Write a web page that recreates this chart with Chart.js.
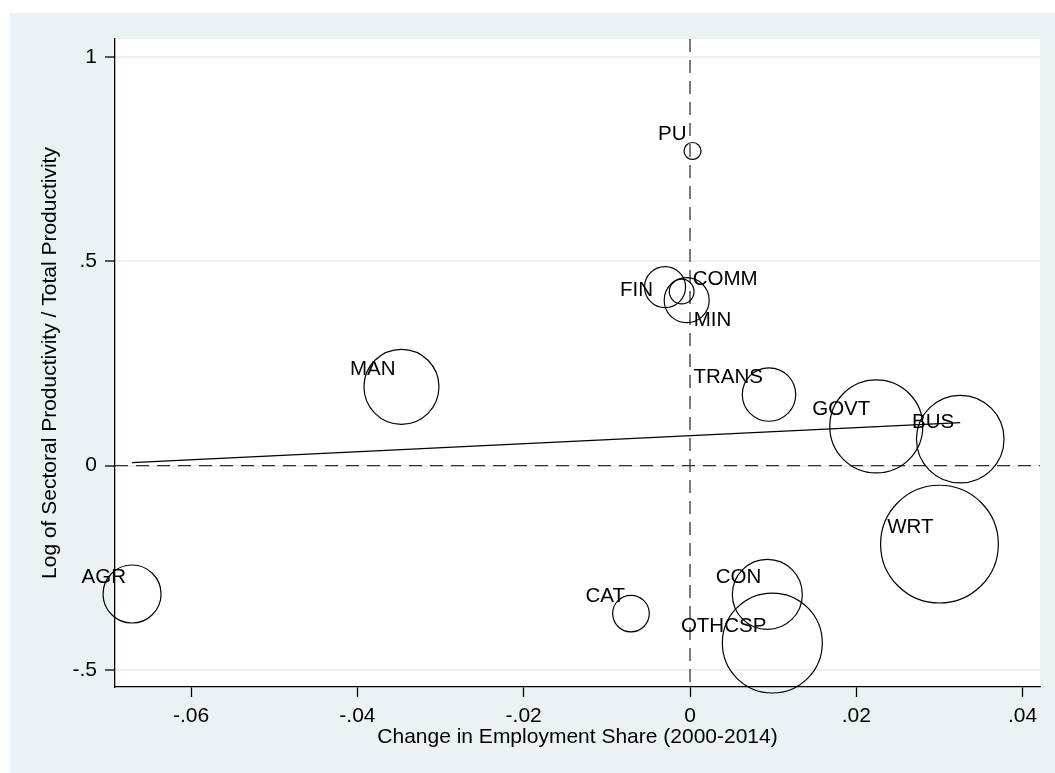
<!DOCTYPE html>
<html lang="en">
<head>
  <meta charset="UTF-8" />
  <title>Sectoral productivity vs change in employment share</title>
  <script src="https://cdn.jsdelivr.net/npm/chart.js"></script>
  <style>
    html, body { margin: 0; padding: 0; background: #fff; }
    canvas { display: block; }
  </style>
</head>
<body>
  <canvas id="chart" width="1055" height="773"></canvas>

  <script>
    // sectors and values
    const sectors = ['PU', 'FIN', 'COMM', 'MIN', 'TRANS', 'MAN', 'AGR', 'CAT', 'CON', 'OTHCSP', 'GOVT', 'BUS', 'WRT'];
    const empShareChange = [0.0003, -0.0030, -0.0010, -0.0004, 0.0095, -0.0347, -0.0671, -0.0071, 0.0093, 0.0099, 0.0224, 0.0325, 0.0300];
    const logRelProd = [0.770, 0.437, 0.426, 0.405, 0.174, 0.193, -0.314, -0.362, -0.315, -0.434, 0.096, 0.065, -0.192];
    // bubble weight (approx. sector size)
    const sectorWeight = [0.32, 1.87, 0.68, 2.25, 3.17, 6.25, 3.74, 1.49, 5.44, 11.1, 9.61, 8.53, 15.4];

    // fitted line end points
    const fitX = [-0.0671, 0.0325];
    const fitY = [0.0073, 0.1052];

    const xTicks = [-0.06, -0.04, -0.02, 0, 0.02, 0.04];
    const xTickLabels = ['-.06', '-.04', '-.02', '0', '.02', '.04'];
    const yTicks = [-0.5, 0, 0.5, 1];
    const yTickLabels = ['-.5', '0', '.5', '1'];

    const BG = '#eaf2f3';
    Chart.defaults.font.family = '"Liberation Sans", Arial, Helvetica, sans-serif';
    Chart.defaults.color = '#000';

    // marker label placement (clock position), default is 11 o'clock
    const labelClock = { FIN: 9, COMM: 2, MIN: 4 };
    const clockOffset = {
      11: { dx: -6, dy: -17, align: 'right' },
      9: { dx: -12, dy: 3, align: 'right' },
      2: { dx: 11, dy: -12, align: 'left' },
      4: { dx: 7, dy: 20, align: 'left' }
    };

    const bgPlugin = {
      id: 'bg',
      beforeDraw(chart) {
        const { ctx, chartArea: a } = chart;
        ctx.save();
        ctx.fillStyle = '#fff';
        ctx.fillRect(0, 0, chart.width, chart.height);
        ctx.fillStyle = BG;
        ctx.fillRect(10, 13, chart.width - 10, chart.height - 13);
        ctx.fillStyle = '#fff';
        ctx.fillRect(a.left, a.top, a.right - a.left, a.bottom - a.top);
        ctx.restore();
      }
    };

    const refLines = {
      id: 'refLines',
      beforeDatasetsDraw(chart) {
        const { ctx, chartArea: a, scales: { x, y } } = chart;
        const x0 = x.getPixelForValue(0);
        const y0 = y.getPixelForValue(0);
        ctx.save();
        ctx.strokeStyle = '#333';
        ctx.lineWidth = 1.3;
        ctx.setLineDash([13, 8]);
        ctx.beginPath();
        ctx.moveTo(a.left, y0);
        ctx.lineTo(a.right, y0);
        ctx.moveTo(x0, a.top);
        ctx.lineTo(x0, a.bottom);
        ctx.stroke();
        ctx.restore();
      }
    };

    const bubbleLabels = {
      id: 'bubbleLabels',
      afterDatasetsDraw(chart) {
        const { ctx } = chart;
        const meta = chart.getDatasetMeta(0);
        ctx.save();
        ctx.font = '20.5px "Liberation Sans", Arial, sans-serif';
        ctx.fillStyle = '#000';
        ctx.textBaseline = 'middle';
        meta.data.forEach((pt, i) => {
          const o = clockOffset[labelClock[sectors[i]] || 11];
          ctx.textAlign = o.align;
          ctx.fillText(sectors[i], pt.x + o.dx, pt.y + o.dy);
        });
        ctx.restore();
      }
    };

    const ctx = document.getElementById('chart').getContext('2d');
    new Chart(ctx, {
      type: 'bubble',
      data: {
        datasets: [
          {
            data: sectors.map((s, i) => ({ x: empShareChange[i], y: logRelProd[i], r: 15 * Math.sqrt(sectorWeight[i]) })),
            backgroundColor: 'rgba(0,0,0,0)',
            borderColor: '#000',
            borderWidth: 1.2,
            clip: false
          },
          {
            type: 'line',
            data: fitX.map((v, i) => ({ x: v, y: fitY[i] })),
            borderColor: '#000',
            borderWidth: 1.3,
            pointRadius: 0,
            fill: false,
            clip: false
          }
        ]
      },
      options: {
        responsive: false,
        animation: false,
        events: [],
        layout: { autoPadding: false, padding: { left: 0, top: 39, right: 15, bottom: 0 } },
        plugins: {
          legend: { display: false },
          tooltip: { enabled: false }
        },
        scales: {
          x: {
            type: 'linear',
            min: -0.06915,
            max: 0.04209,
            afterFit(scale) { scale.height = 86; },
            afterBuildTicks(scale) { scale.ticks = xTicks.map(v => ({ value: v })); },
            ticks: {
              font: { size: 21 },
              padding: 7,
              maxRotation: 0,
              callback: (v, i) => xTickLabels[i]
            },
            grid: {
              drawOnChartArea: false,
              tickLength: 10,
              tickColor: '#000',
              tickWidth: 1.3
            },
            border: { color: '#000', width: 1.3 },
            title: {
              display: true,
              text: 'Change in Employment Share (2000-2014)',
              font: { size: 21 },
              padding: { top: 0, bottom: 23 }
            }
          },
          y: {
            type: 'linear',
            min: -0.5416,
            max: 1.044,
            afterFit(scale) { scale.width = 115; },
            afterBuildTicks(scale) { scale.ticks = yTicks.map(v => ({ value: v })); },
            ticks: {
              font: { size: 21 },
              padding: 8,
              callback: (v, i) => yTickLabels[i]
            },
            grid: {
              color: BG,
              lineWidth: 2,
              tickLength: 10,
              tickColor: '#000',
              tickWidth: 1.3
            },
            border: { color: '#000', width: 1.3 },
            title: {
              display: true,
              text: 'Log of Sectoral Productivity / Total Productivity',
              font: { size: 21 },
              padding: { top: 38, bottom: 0 }
            }
          }
        }
      },
      plugins: [bgPlugin, refLines, bubbleLabels]
    });
  </script>
</body>
</html>
